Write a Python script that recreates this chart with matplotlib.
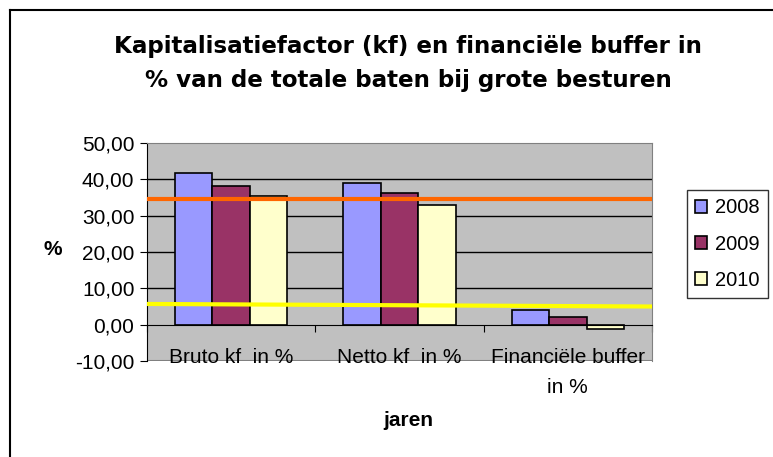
import matplotlib
matplotlib.use("Agg")
import matplotlib.pyplot as plt
import numpy as np

categories = ["Bruto kf  in %", "Netto kf  in %", "Financiële buffer\nin %"]
years = ["2008", "2009", "2010"]
vals_2008 = [41.7, 38.9, 4.1]
vals_2009 = [38.3, 36.2, 2.1]
vals_2010 = [35.3, 32.8, -1.2]
kf_norm = [34.7, 34.7]
buffer_norm = [5.7, 5.0]
yticks = [-10, 0, 10, 20, 30, 40, 50]

colors = ["#9999FF", "#993366", "#FFFFCC"]
fs = 15

fig = plt.figure(figsize=(7.73, 4.57), dpi=100)
ax = fig.add_axes([147/773, 1 - 361/457, (652-147)/773, (361-143)/457])
ax.set_facecolor("#C0C0C0")

x = np.arange(len(categories))
w = 0.222
series = [vals_2008, vals_2009, vals_2010]
for i, (vals, c, yr) in enumerate(zip(series, colors, years)):
    ax.bar(x + (i - 1) * w, vals, w, color=c, edgecolor="black", linewidth=1.2, label=yr, zorder=3)

ax.set_xlim(-0.5, 2.5)
ax.set_ylim(-10, 50)

# grid
for yv in yticks[2:-1]:
    ax.axhline(yv, color="black", lw=1, zorder=1)

# reference lines
ax.plot([-0.5, 2.5], kf_norm, color="#FF6600", lw=3, zorder=4, solid_capstyle="butt")
ax.plot([-0.5, 2.5], buffer_norm, color="#FFFF00", lw=3, zorder=4, solid_capstyle="butt")

for s in ["top", "right"]:
    ax.spines[s].set_color("#808080")
ax.spines["left"].set_color("black")
ax.spines["bottom"].set_position(("data", 0))
ax.spines["bottom"].set_color("black")
ax.spines["bottom"].set_zorder(5)
ax.axhline(-10, color="#808080", lw=1.5, zorder=2)

ax.set_yticks(yticks)
ax.set_yticklabels([f"{v:.2f}".replace(".", ",") for v in yticks],
                   fontsize=fs, family="Liberation Sans")
ax.tick_params(axis="y", direction="out", length=5, color="black", pad=4)
ax.set_xticks([-0.5, 0.5, 1.5, 2.5])
ax.set_xticklabels([])
ax.tick_params(axis="x", direction="out", length=5, color="black")

for xi, lab in zip(x, categories):
    ax.text(xi, -6.3, lab, ha="center", va="top", fontsize=fs,
            family="Liberation Sans", linespacing=1.75, zorder=6)

fig.text(53/773, 1 - 250/457, "%", ha="center", va="center", fontsize=fs,
         fontweight="bold", family="Liberation Sans")
fig.text(408/773, 1 - 420/457, "jaren", ha="center", va="center", fontsize=fs,
         fontweight="bold", family="Liberation Sans")

fig.text(408/773, 1 - 47/457, "Kapitalisatiefactor (kf) en financiële buffer in",
         ha="center", va="center", fontsize=16.6, fontweight="bold", family="DejaVu Sans")
fig.text(408/773, 1 - 80/457, "% van de totale baten bij grote besturen",
         ha="center", va="center", fontsize=16.6, fontweight="bold", family="DejaVu Sans")

leg = fig.legend(loc="center", bbox_to_anchor=(727.5/773, 1 - 244/457), frameon=True,
                 fancybox=False, edgecolor="black",
                 prop={"family": "Liberation Sans", "size": 14.5},
                 handlelength=0.6, handleheight=0.6, handletextpad=0.4,
                 labelspacing=0.85, borderpad=0.4, borderaxespad=0)
leg.get_frame().set_linewidth(1)

# chart area border (top and left visible)
fig.add_artist(plt.Line2D([10/773, 1], [1 - 10/457, 1 - 10/457], color="black", lw=1.5))
fig.add_artist(plt.Line2D([10/773, 10/773], [0, 1 - 10/457], color="black", lw=1.5))

fig.savefig("out.png", dpi=100)
